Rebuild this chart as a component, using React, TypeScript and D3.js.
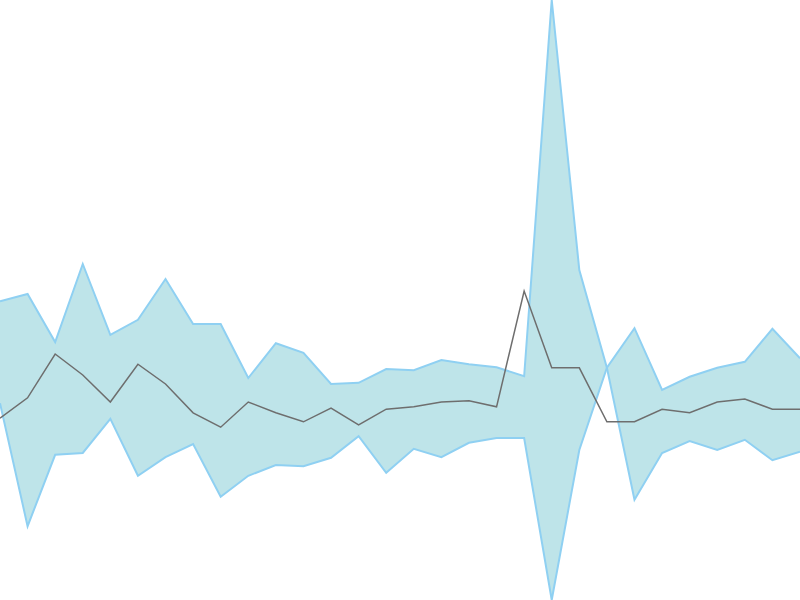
import React from "react";
import * as d3 from "d3";

const days: number[] = Array.from({ length: 30 }, (_, i) => i + 1);

const upperBand: number[] = [
  49.8, 51.0, 43.0, 56.0, 44.2, 46.7, 53.5, 46.0, 46.0, 37.0,
  42.8, 41.2, 36.0, 36.2, 38.5, 38.3, 40.0, 39.3, 38.8, 37.3,
  100.0, 55.0, 38.7, 16.7, 24.5, 26.5, 25.0, 26.7, 23.3, 24.7,
];

const lowerBand: number[] = [
  32.8, 12.3, 24.2, 24.5, 30.2, 20.7, 23.8, 26.0, 17.2, 20.7,
  22.5, 22.3, 23.7, 27.3, 21.2, 25.2, 23.8, 26.2, 27.0, 27.0,
  0.0, 25.0, 38.7, 45.3, 35.0, 37.2, 38.7, 39.7, 45.2, 40.3,
];

const meanLine: number[] = [
  30.3, 33.7, 41.0, 37.5, 33.0, 39.3, 36.0, 31.2, 28.8, 33.0,
  31.2, 29.7, 32.0, 29.2, 31.8, 32.2, 33.0, 33.2, 32.2, 51.5,
  38.7, 38.7, 29.7, 29.7, 31.8, 31.2, 33.0, 33.5, 31.8, 31.8,
];

const W = 800;
const H = 600;

export default function App() {
  const x = d3
    .scaleLinear()
    .domain(d3.extent(days) as [number, number])
    .range([0, W]);
  const all = [...upperBand, ...lowerBand, ...meanLine];
  const y = d3
    .scaleLinear()
    .domain(d3.extent(all) as [number, number])
    .range([H, 0]);

  const idx = days.map((_, i) => i);
  const area = d3
    .area<number>()
    .x((i) => x(days[i]))
    .y0((i) => y(lowerBand[i]))
    .y1((i) => y(upperBand[i]));
  const lineUpper = d3
    .line<number>()
    .x((i) => x(days[i]))
    .y((i) => y(upperBand[i]));
  const lineLower = d3
    .line<number>()
    .x((i) => x(days[i]))
    .y((i) => y(lowerBand[i]));
  const lineMean = d3
    .line<number>()
    .x((i) => x(days[i]))
    .y((i) => y(meanLine[i]));

  return (
    <svg
      width={W}
      height={H}
      style={{ position: "fixed", left: 0, top: 0, background: "#fff" }}
    >
      <path d={area(idx) || ""} fill="#bee4e9" stroke="none" />
      <path d={lineUpper(idx) || ""} fill="none" stroke="#8fd0f2" strokeWidth={2} />
      <path d={lineLower(idx) || ""} fill="none" stroke="#8fd0f2" strokeWidth={2} />
      <path d={lineMean(idx) || ""} fill="none" stroke="#6e6e6e" strokeWidth={1.5} />
    </svg>
  );
}
